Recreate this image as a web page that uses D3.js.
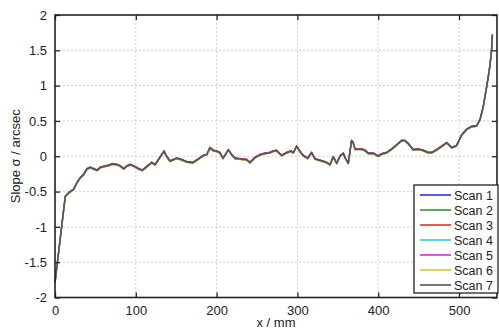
<!DOCTYPE html>
<html>
<head>
<meta charset="utf-8">
<script src="https://cdn.jsdelivr.net/npm/d3@7"></script>
<style>
  body { margin: 0; background: #fff; }
  svg { display: block; font-family: "Liberation Sans", Arial, sans-serif; }
</style>
</head>
<body>
<div id="chart"></div>
<script>
// dimensions of the picture
var width = 499;
var height = 330;
var margin = { top: 15, right: 2, bottom: 32, left: 55 };

// slope profile (x in mm, slope in arcsec)
var xValues = [0, 12.7, 17, 23, 27, 31, 35.5, 39.6, 43.7, 47.9, 52, 56, 62.3, 66.5, 70.5, 76.7, 80.8, 85, 89, 93.2,
  97.4, 103.6, 108, 113.5, 119.7, 123.8, 127.9, 135, 138, 142.3, 146.4, 150.5, 156.8, 163, 171, 177.4, 183.5, 187.7,
  191.8, 196, 200, 204, 208, 214.5, 218.7, 222.8, 229, 237, 241.3, 247.5, 253.7, 260, 266, 270, 274, 280.6, 286.8,
  292, 295, 299, 303, 307, 312.7, 317.6, 321.8, 328, 336, 340.3, 344.4, 348.6, 352.7, 356.8, 359.8, 363, 367, 369,
  371.3, 379.6, 383.7, 387.7, 394, 400, 404, 410.5, 416.7, 423, 429, 433, 437, 443.4, 449.6, 455.8, 462, 466, 472.4,
  478.6, 484.8, 491, 497, 503.3, 509.5, 515.7, 521.9, 526, 530, 534.3, 537.5, 540, 541.3];
var slopeValues = [-1.79, -0.57, -0.52, -0.47, -0.38, -0.31, -0.26, -0.18, -0.16, -0.18, -0.20, -0.16, -0.14, -0.13, -0.11, -0.12, -0.14, -0.18, -0.14, -0.12,
  -0.14, -0.18, -0.20, -0.15, -0.09, -0.12, -0.05, 0.07, 0.00, -0.07, -0.05, -0.03, -0.05, -0.08, -0.09, -0.04, 0.01, 0.02,
  0.12, 0.08, 0.07, 0.05, -0.03, 0.09, 0.02, -0.03, -0.04, -0.05, -0.09, -0.02, 0.02, 0.04, 0.05, 0.07, 0.08, 0.01, 0.05,
  0.07, 0.05, 0.14, 0.07, 0.01, -0.03, 0.05, -0.04, -0.06, -0.09, -0.12, -0.01, -0.10, 0.00, 0.04, -0.04, -0.10, 0.22, 0.19,
  0.10, 0.10, 0.08, 0.04, 0.04, 0.00, 0.03, 0.05, 0.10, 0.16, 0.22, 0.22, 0.18, 0.09, 0.10, 0.08, 0.05, 0.05, 0.09,
  0.14, 0.19, 0.12, 0.15, 0.30, 0.38, 0.42, 0.43, 0.52, 0.70, 0.99, 1.22, 1.46, 1.72];

// seven scans, nearly identical: small offsets seen as colour fringes
var scanNames = ["Scan 1", "Scan 2", "Scan 3", "Scan 4", "Scan 5", "Scan 6", "Scan 7"];
var scanColors = ["#3333dd", "#2e9a2e", "#e03030", "#33cccc", "#cc33cc", "#cccc33", "#555555"];
var scanOffsets = [0.006, -0.006, 0.008, -0.004, 0.004, -0.008, 0];

var xTicks = [0, 100, 200, 300, 400, 500];
var yTicks = [-2, -1.5, -1, -0.5, 0, 0.5, 1, 1.5, 2];

var svg = d3.select("#chart").append("svg")
  .attr("width", width)
  .attr("height", height);

var x = d3.scaleLinear().domain([0, 547]).range([margin.left, width - margin.right]);
var y = d3.scaleLinear().domain([-2, 2]).range([height - margin.bottom - 0.5, margin.top]);

var x0 = x.range()[0], x1 = x.range()[1];
var y0 = y.range()[0], y1 = y.range()[1];

// dashed grid
svg.append("g").selectAll("line")
  .data(xTicks.slice(1))
  .enter().append("line")
  .attr("x1", d => x(d)).attr("x2", d => x(d))
  .attr("y1", y1).attr("y2", y0)
  .style("stroke", "#cfcfcf").style("stroke-dasharray", "2,2");
svg.append("g").selectAll("line")
  .data(yTicks.slice(1, -1))
  .enter().append("line")
  .attr("x1", x0).attr("x2", x1)
  .attr("y1", d => y(d)).attr("y2", d => y(d))
  .style("stroke", "#cfcfcf").style("stroke-dasharray", "2,2");

// the scans
var line = d3.line()
  .x((d, i) => x(xValues[i]))
  .y(d => y(d));

scanNames.forEach(function(name, k) {
  svg.append("path")
    .datum(slopeValues.map(v => v + scanOffsets[k]))
    .attr("d", line)
    .style("fill", "none")
    .style("stroke", scanColors[k])
    .style("stroke-width", k == 6 ? 1.6 : 1.2)
    .style("stroke-linejoin", "round");
});

// axes with inward ticks on all four sides
var plainNumber = d => String(d);   // keep a hyphen minus like the original
var axisBottom = d3.axisBottom(x).tickValues(xTicks).tickSizeInner(-5).tickSizeOuter(0).tickPadding(8).tickFormat(plainNumber);
var axisTop = d3.axisTop(x).tickValues(xTicks).tickSizeInner(-5).tickSizeOuter(0).tickFormat("");
var axisLeft = d3.axisLeft(y).tickValues(yTicks).tickSizeInner(-5).tickSizeOuter(0).tickPadding(8).tickFormat(plainNumber);
var axisRight = d3.axisRight(y).tickValues(yTicks).tickSizeInner(-5).tickSizeOuter(0).tickFormat("");

function styleAxis(g) {
  g.select(".domain").remove();
  g.selectAll(".tick line").style("stroke", "#222").style("stroke-width", 1.3);
  g.selectAll("text").style("font-size", "13px").style("fill", "#222").style("font-family", "Liberation Sans, Arial, sans-serif");
}

svg.append("g").attr("transform", "translate(0," + y0 + ")").call(axisBottom).call(styleAxis);
svg.append("g").attr("transform", "translate(0," + y1 + ")").call(axisTop).call(styleAxis);
svg.append("g").attr("transform", "translate(" + x0 + ",0)").call(axisLeft).call(styleAxis);
svg.append("g").attr("transform", "translate(" + x1 + ",0)").call(axisRight).call(styleAxis);

// box round the plot
svg.append("rect")
  .attr("x", x0).attr("y", y1)
  .attr("width", x1 - x0).attr("height", y0 - y1)
  .style("fill", "none").style("stroke", "#222").style("stroke-width", 1.6);

// axis labels
svg.append("text")
  .attr("x", (x0 + x1) / 2).attr("y", 327)
  .attr("text-anchor", "middle")
  .style("font-size", "13px").style("fill", "#222")
  .text("x / mm");
svg.append("text")
  .attr("transform", "translate(20," + ((y0 + y1) / 2) + ") rotate(-90)")
  .attr("text-anchor", "middle")
  .style("font-size", "13px").style("fill", "#222")
  .text("Slope σ / arcsec");

// legend
var legend = svg.append("g").attr("transform", "translate(414,185)");
legend.append("rect")
  .attr("width", 84).attr("height", 108)
  .style("fill", "#fff").style("stroke", "#222").style("stroke-width", 1.3);
scanNames.forEach(function(name, k) {
  var ly = 10 + k * 15;
  legend.append("line")
    .attr("x1", 6).attr("x2", 37)
    .attr("y1", ly).attr("y2", ly)
    .style("stroke", scanColors[k]).style("stroke-width", 1.6);
  legend.append("text")
    .attr("x", 40).attr("y", ly + 4.5)
    .style("font-size", "12.5px").style("fill", "#222")
    .text(name);
});
</script>
</body>
</html>
